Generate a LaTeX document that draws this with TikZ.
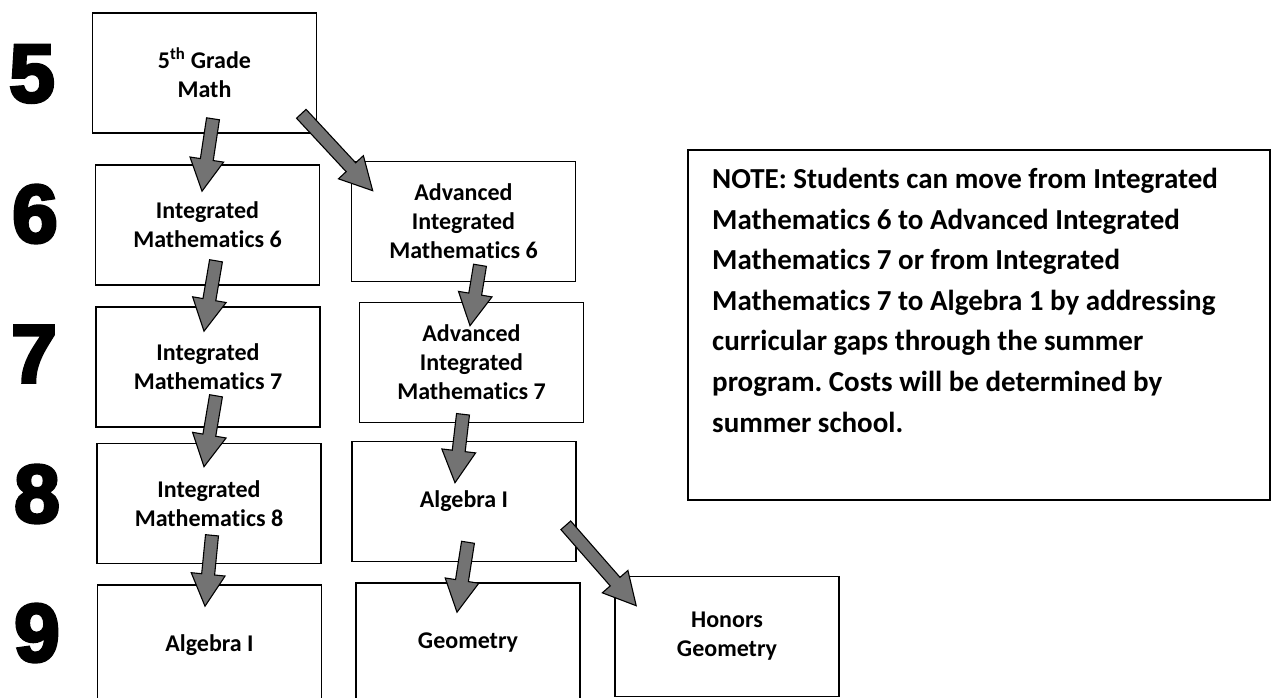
\documentclass[tikz,border=0pt]{standalone}
\usepackage{fontspec}
\setmainfont{Carlito}[Ligatures=NoCommon]
\newfontfamily\gradefont{Liberation Sans}[BoldFeatures={FakeBold=4}]
\usetikzlibrary{calc}
\frenchspacing

\tikzset{
  course/.style={draw, line width=1.6pt, minimum width=224pt, minimum height=120pt,
    inner sep=0pt, align=center, font=\fontsize{24}{29}\selectfont\bfseries},
  grade/.style={inner sep=0pt, font=\gradefont\bfseries\fontsize{82}{82}\selectfont},
  bigarrow/.style={draw=black, line width=1.1pt, fill=black!55, line join=miter,
    to path={($(\tikztostart)!6.5pt!90:(\tikztotarget)$)
      -- ($(\tikztotarget)!32pt!(\tikztostart)!6.5pt!90:(\tikztotarget)$)
      -- ($(\tikztotarget)!32pt!(\tikztostart)!17pt!90:(\tikztotarget)$)
      -- (\tikztotarget)
      -- ($(\tikztotarget)!32pt!(\tikztostart)!17pt!-90:(\tikztotarget)$)
      -- ($(\tikztotarget)!32pt!(\tikztostart)!6.5pt!-90:(\tikztotarget)$)
      -- ($(\tikztostart)!6.5pt!-90:(\tikztotarget)$) -- cycle}}
}

\begin{document}
\begin{tikzpicture}[x=1pt, y=-1pt]
  \path[use as bounding box, fill=white] (0,0) rectangle (1271,698);

  % grade numbers
  \node[grade] (n5) at (32,74) {5};
  \node[grade] (n6) at (35,214) {6};
  \node[grade] (n7) at (34,354) {7};
  \node[grade] (n8) at (37,494) {8};
  \node[grade] (n9) at (37,633) {9};

  % courses
  \node[course] (g5) at (204.5,73) {5\textsuperscript{th} Grade\\Math};
  \node[course] (im6) at (207.5,225) {Integrated\\Mathematics 6};
  \node[course] (aim6) at (463.5,221.5) {Advanced\\Integrated\\Mathematics 6};
  \node[course] (im7) at (208,367) {Integrated\\Mathematics 7};
  \node[course] (aim7) at (471.5,362.5) {Advanced\\Integrated\\Mathematics 7};
  \node[course] (im8) at (209,503.5) {Integrated\\Mathematics 8};
  \node[course] (alg8) at (464,501.5) {Algebra I};
  \node[course] (alg9) at (209.5,645) {Algebra I};
  \node[course] (geo) at (468,643) {Geometry};
  \node[course] (hon) at (727,636.5) {Honors\\Geometry};

  % note
  \node[draw, line width=1.6pt, minimum width=582pt, minimum height=350pt] (note) at (979,325) {};
  \node[anchor=north west, inner sep=0pt, align=left,
    font=\fontsize{29}{40.6}\selectfont\bfseries] (notetxt) at (712,168)
    {NOTE: Students can move from Integrated\\
     Mathematics 6 to Advanced Integrated\\
     Mathematics 7 or from Integrated\\
     Mathematics 7 to Algebra 1 by addressing\\
     curricular gaps through the summer\\
     program. Costs will be determined by\\
     summer school.};

  % arrow ends
  \coordinate (g5a) at ($(g5.south)+(8.5,-15)$);
  \coordinate (g5b) at ($(g5.south east)+(-16,-20)$);
  \coordinate (im6in) at ($(im6.north)+(-5.5,27)$);
  \coordinate (aim6in) at ($(aim6.north west)+(22,30)$);
  \coordinate (im6out) at ($(im6.south)+(8.5,-25)$);
  \coordinate (im7in) at ($(im7.north)+(-4,25)$);
  \coordinate (aim6out) at ($(aim6.south)+(16.5,-17)$);
  \coordinate (aim7in) at ($(aim7.north)+(-1.5,24)$);
  \coordinate (im7out) at ($(im7.south)+(8,-32)$);
  \coordinate (im8in) at ($(im8.north)+(-5,24)$);
  \coordinate (aim7out) at ($(aim7.south)+(-8.5,-9)$);
  \coordinate (alg8in) at ($(alg8.north)+(-9,42)$);
  \coordinate (im8out) at ($(im8.south)+(3,-29)$);
  \coordinate (alg9in) at ($(alg9.north)+(-4.5,22)$);
  \coordinate (alg8a) at ($(alg8.south)+(4,-20)$);
  \coordinate (geoin) at ($(geo.north)+(-11,30)$);
  \coordinate (alg8b) at ($(alg8.south east)+(-11,-37)$);
  \coordinate (honin) at ($(hon.north west)+(22,30)$);

  \draw[bigarrow] (g5a) to (im6in);
  \draw[bigarrow] (g5b) to (aim6in);
  \draw[bigarrow] (im6out) to (im7in);
  \draw[bigarrow] (aim6out) to (aim7in);
  \draw[bigarrow] (im7out) to (im8in);
  \draw[bigarrow] (aim7out) to (alg8in);
  \draw[bigarrow] (im8out) to (alg9in);
  \draw[bigarrow] (alg8a) to (geoin);
  \draw[bigarrow] (alg8b) to (honin);
\end{tikzpicture}
\end{document}
